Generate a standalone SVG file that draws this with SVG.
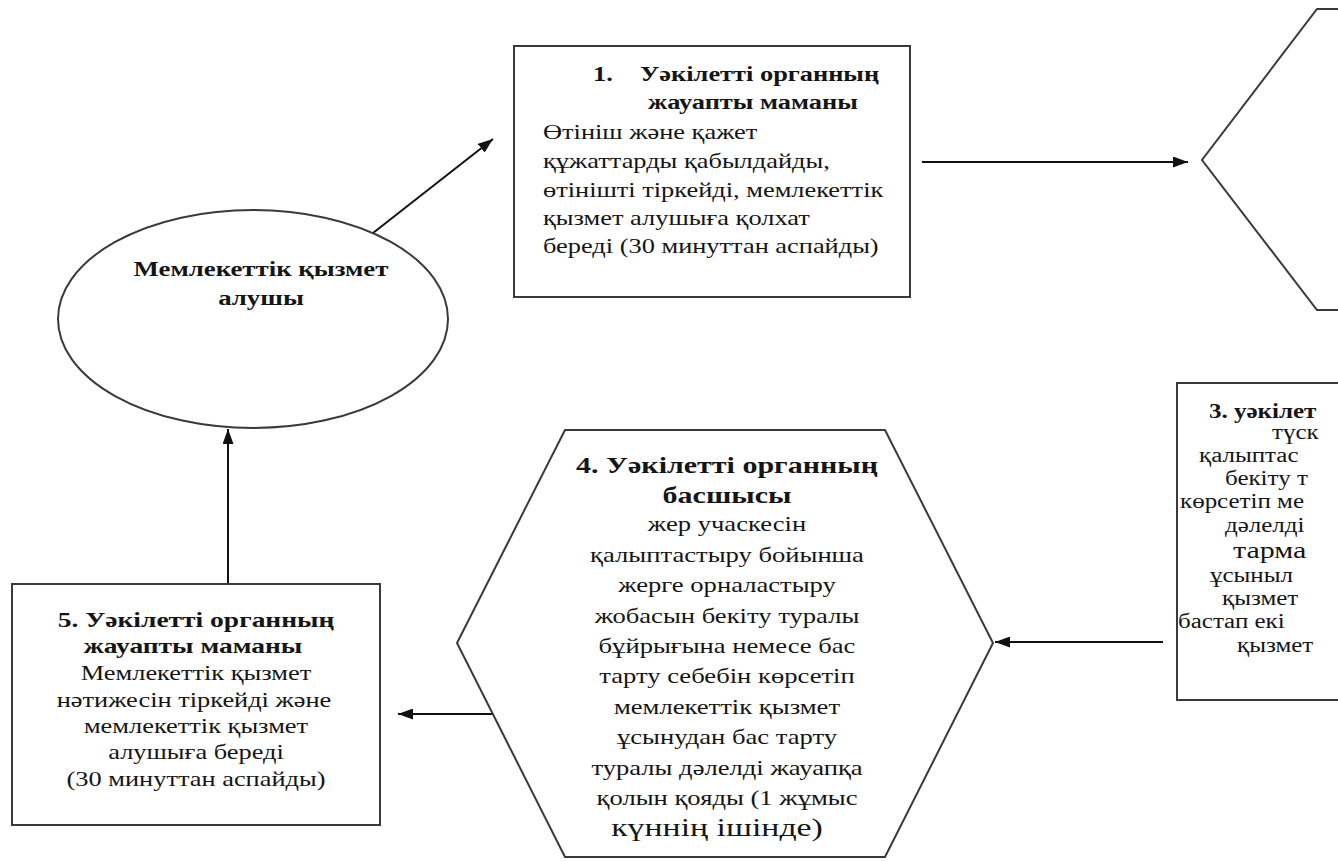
<svg xmlns="http://www.w3.org/2000/svg" width="1338" height="861" viewBox="0 0 1338 861">
<defs>
<marker id="arr" markerUnits="userSpaceOnUse" markerWidth="15" markerHeight="11" refX="15" refY="5.5" orient="auto">
<path d="M0,0 L15,5.5 L0,11 z" fill="#111"/>
</marker>
<style>
.shape{fill:#fff;stroke:#3a3a3a;stroke-width:2}
.conn{stroke:#111;stroke-width:2;fill:none}
text{font-family:"Liberation Serif","Times New Roman",serif;fill:#151515;font-size:22px}
.b{font-weight:bold}
.m{text-anchor:middle}
.s3{font-size:20px}
</style>
</defs>
<rect width="1338" height="861" fill="#fff"/>

<g id="connectors">
<line class="conn" x1="373" y1="233" x2="493" y2="139" marker-end="url(#arr)"/>
<line class="conn" x1="922" y1="162" x2="1188" y2="162" marker-end="url(#arr)"/>
<line class="conn" x1="1163" y1="642" x2="995" y2="642" marker-end="url(#arr)"/>
<line class="conn" x1="492" y1="714" x2="398" y2="714" marker-end="url(#arr)"/>
<line class="conn" x1="228" y1="583" x2="228" y2="429" marker-end="url(#arr)"/>
</g>

<g id="node-recipient">
<ellipse class="shape" cx="253" cy="319" rx="195" ry="109"/>
<text class="b m" transform="matrix(1.22 0 0 1 261 276)">Мемлекеттік қызмет</text>
<text class="b m" transform="matrix(1.22 0 0 1 261 305)">алушы</text>
</g>

<g id="node-1">
<rect class="shape" x="514" y="46" width="396" height="251"/>
<text class="b" transform="matrix(1.2 0 0 1 593 81)">1.</text>
<text class="b" transform="matrix(1.2 0 0 1 640 81)">Уәкілетті органның</text>
<text class="b" transform="matrix(1.2 0 0 1 648 109)">жауапты маманы</text>
<text transform="matrix(1.2 0 0 1 543 139)">Өтініш және қажет</text>
<text transform="matrix(1.2 0 0 1 543 168)">құжаттарды қабылдайды,</text>
<text transform="matrix(1.2 0 0 1 543 197)">өтінішті тіркейді, мемлекеттік</text>
<text transform="matrix(1.2 0 0 1 543 225)">қызмет алушыға қолхат</text>
<text transform="matrix(1.2 0 0 1 543 253)">береді (30 минуттан аспайды)</text>
</g>

<g id="node-2">
<polyline class="shape" points="1345,9 1317,9 1202,160 1317,310 1345,310"/>
</g>

<g id="node-3">
<rect class="shape" x="1177" y="383" width="200" height="317"/>
<text class="b s3" transform="matrix(1.25 0 0 1 1209 418)">3. уәкілет</text>
<text class="s3" transform="matrix(1.25 0 0 1 1272 439)">түск</text>
<text class="s3" transform="matrix(1.25 0 0 1 1199 462)">қалыптас</text>
<text class="s3" transform="matrix(1.25 0 0 1 1225 485)">бекіту т</text>
<text class="s3" transform="matrix(1.25 0 0 1 1180 508)">көрсетіп ме</text>
<text class="s3" transform="matrix(1.25 0 0 1 1225 532)">дәлелді</text>
<text transform="matrix(1.25 0 0 1 1233 558)" style="font-size:24px">тарма</text>
<text class="s3" transform="matrix(1.25 0 0 1 1210 582)">ұсыныл</text>
<text class="s3" transform="matrix(1.25 0 0 1 1222 605)">қызмет</text>
<text class="s3" transform="matrix(1.25 0 0 1 1178 628)">бастап екі</text>
<text class="s3" transform="matrix(1.25 0 0 1 1237 652)">қызмет</text>
</g>

<g id="node-4">
<polygon class="shape" points="565,430 885,430 993,643 885,857 565,857 457,643"/>
<text class="b m" transform="matrix(1.25 0 0 1 727 473)" style="font-size:24px">4. Уәкілетті органның</text>
<text class="b m" transform="matrix(1.25 0 0 1 727 503)" style="font-size:24px">басшысы</text>
<text class="m" transform="matrix(1.21 0 0 1 727 531)">жер учаскесін</text>
<text class="m" transform="matrix(1.21 0 0 1 727 562)">қалыптастыру бойынша</text>
<text class="m" transform="matrix(1.21 0 0 1 727 592)">жерге орналастыру</text>
<text class="m" transform="matrix(1.21 0 0 1 727 623)">жобасын бекіту туралы</text>
<text class="m" transform="matrix(1.21 0 0 1 727 653)">бұйрығына немесе бас</text>
<text class="m" transform="matrix(1.21 0 0 1 727 683)">тарту себебін көрсетіп</text>
<text class="m" transform="matrix(1.21 0 0 1 727 714)">мемлекеттік қызмет</text>
<text class="m" transform="matrix(1.21 0 0 1 727 744)">ұсынудан бас тарту</text>
<text class="m" transform="matrix(1.21 0 0 1 727 775)">туралы дәлелді жауапқа</text>
<text class="m" transform="matrix(1.21 0 0 1 727 805)">қолын қояды (1 жұмыс</text>
<text class="m" transform="matrix(1.3 0 0 1 717 836)" style="font-size:26px">күннің ішінде)</text>
</g>

<g id="node-5">
<rect class="shape" x="12" y="584" width="368" height="241"/>
<text class="b m" transform="matrix(1.25 0 0 1 196 627)">5. Уәкілетті органның</text>
<text class="b m" transform="matrix(1.25 0 0 1 193 653)">жауапты маманы</text>
<text class="m" transform="matrix(1.2 0 0 1 196 680)">Мемлекеттік қызмет</text>
<text class="m" transform="matrix(1.2 0 0 1 194 707)">нәтижесін тіркейді және</text>
<text class="m" transform="matrix(1.2 0 0 1 196 733)">мемлекеттік қызмет</text>
<text class="m" transform="matrix(1.2 0 0 1 196 759)">алушыға береді</text>
<text class="m" transform="matrix(1.2 0 0 1 196 786)">(30 минуттан аспайды)</text>
</g>
</svg>
